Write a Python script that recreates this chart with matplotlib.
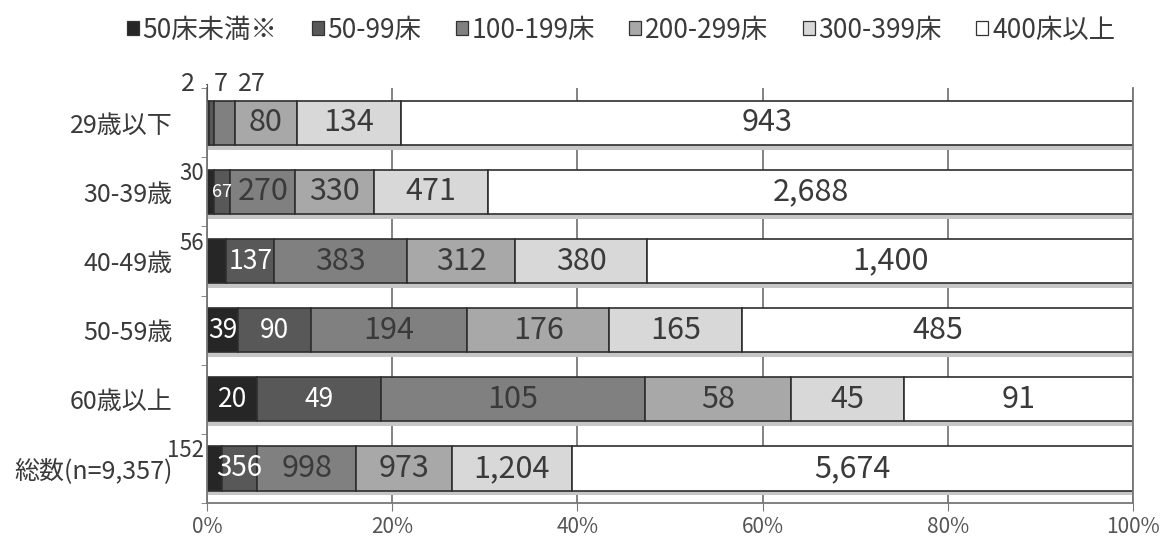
import matplotlib
matplotlib.use("Agg")
import matplotlib.pyplot as plt
from matplotlib.patches import Patch
import numpy as np

plt.rcParams['font.family'] = ['Noto Sans CJK JP', 'DejaVu Sans']

categories = ['29歳以下', '30-39歳', '40-49歳', '50-59歳', '60歳以上', '総数(n=9,357)']
series_names = ['50床未満※', '50-99床', '100-199床', '200-299床', '300-399床', '400床以上']

lt50 = [2, 30, 56, 39, 20, 152]
b50_99 = [7, 67, 137, 90, 49, 356]
b100_199 = [27, 270, 383, 194, 105, 998]
b200_299 = [80, 330, 312, 176, 58, 973]
b300_399 = [134, 471, 380, 165, 45, 1204]
ge400 = [943, 2688, 1400, 485, 91, 5674]

colors = ['#262626', '#585858', '#808080', '#a8a8a8', '#d8d8d8', '#ffffff']
text_col = '#3a3a3a'

counts = np.array([lt50, b50_99, b100_199, b200_299, b300_399, ge400], dtype=float)
shares = counts / counts.sum(axis=0)
lefts = np.vstack([np.zeros(len(categories)), np.cumsum(shares, axis=0)[:-1]])

fig = plt.figure(figsize=(11.65, 5.38), dpi=100)
ax = fig.add_axes([0.1777, 0.065, 0.795, 0.771])

y = np.arange(len(categories))
h = 0.64

# soft shadow under each bar
ax.barh(y + 0.07, 1.0, height=h, color='#c6c6c6', zorder=1.5, linewidth=0)

for i in range(len(series_names)):
    ax.barh(y, shares[i], left=lefts[i], height=h, color=colors[i],
            edgecolor='#2e2e2e', linewidth=1.2, zorder=2, label=series_names[i])

# labels drawn beside the bar instead of inside (row, series): offset in points
outside = {
    (0, 0): (-14, 12),
    (0, 1): (7, 12),
    (0, 2): (20, 12),
}
superscript = {(1, 0), (2, 0), (5, 0)}
small = {(1, 1): 13, (2, 1): 19, (3, 0): 19, (3, 1): 19, (4, 0): 19, (4, 1): 19, (5, 1): 20}

for i in range(len(series_names)):
    for r in range(len(categories)):
        v = int(counts[i, r])
        txt = f'{v:,}'
        xc = lefts[i, r] + shares[i, r] / 2
        if (r, i) in outside:
            dx, dy = outside[(r, i)]
            if i == 0:
                ax.annotate(txt, xy=(0, r - h / 2), xytext=(dx, dy), textcoords='offset points',
                            ha='center', va='center', fontsize=18, color=text_col,
                            arrowprops=dict(arrowstyle='-', color='#555555', lw=0.8,
                                            shrinkA=6, shrinkB=0,
                                            connectionstyle='angle,angleA=0,angleB=90,rad=0'))
            else:
                ax.annotate(txt, xy=(xc, r - h / 2), xytext=(dx, dy), textcoords='offset points',
                            ha='center', va='center', fontsize=18, color=text_col)
        elif (r, i) in superscript:
            ax.annotate(txt, xy=(0, r - h / 2), xytext=(-2, -3), textcoords='offset points',
                        ha='right', va='center', fontsize=16, color=text_col,
                        annotation_clip=False)
        else:
            fc = 'white' if i < 2 else text_col
            fs = small.get((r, i), 22)
            ax.text(xc, r, txt, ha='center', va='center', fontsize=fs, color=fc, zorder=3)

ax.set_xlim(0, 1)
ax.set_ylim(len(categories) - 0.5, -0.5)
ax.set_xticks(np.linspace(0, 1, 6))
ax.set_xticklabels([f'{int(t * 100)}%' for t in np.linspace(0, 1, 6)], fontsize=15, color='#555555')
ax.set_yticks(y)
ax.set_yticklabels(categories, fontsize=18, color=text_col)
ax.set_yticks(np.arange(-0.5, len(categories)), minor=True)
ax.tick_params(axis='y', which='major', length=0, pad=25)
ax.tick_params(axis='y', which='minor', length=4, color='#777777', direction='out')
ax.tick_params(axis='x', which='major', length=6, color='#777777', direction='out', pad=3)

ax.xaxis.grid(True, color='#7a7a7a', linewidth=1.3, zorder=1)
ax.set_axisbelow(True)
ax.spines['top'].set_visible(False)
for s in ['left', 'bottom', 'right']:
    ax.spines[s].set_color('#777777')
    ax.spines[s].set_linewidth(1.3)

handles = [Patch(facecolor=c, edgecolor='#333333', linewidth=0.9) for c in colors]
fig.legend(handles, series_names, loc='center', bbox_to_anchor=(0.533, 0.944), ncol=6,
           frameon=False, fontsize=19, handlelength=0.45, handleheight=0.45,
           handletextpad=0.15, columnspacing=1.3, labelcolor=text_col)

fig.savefig('out.png', dpi=100)
